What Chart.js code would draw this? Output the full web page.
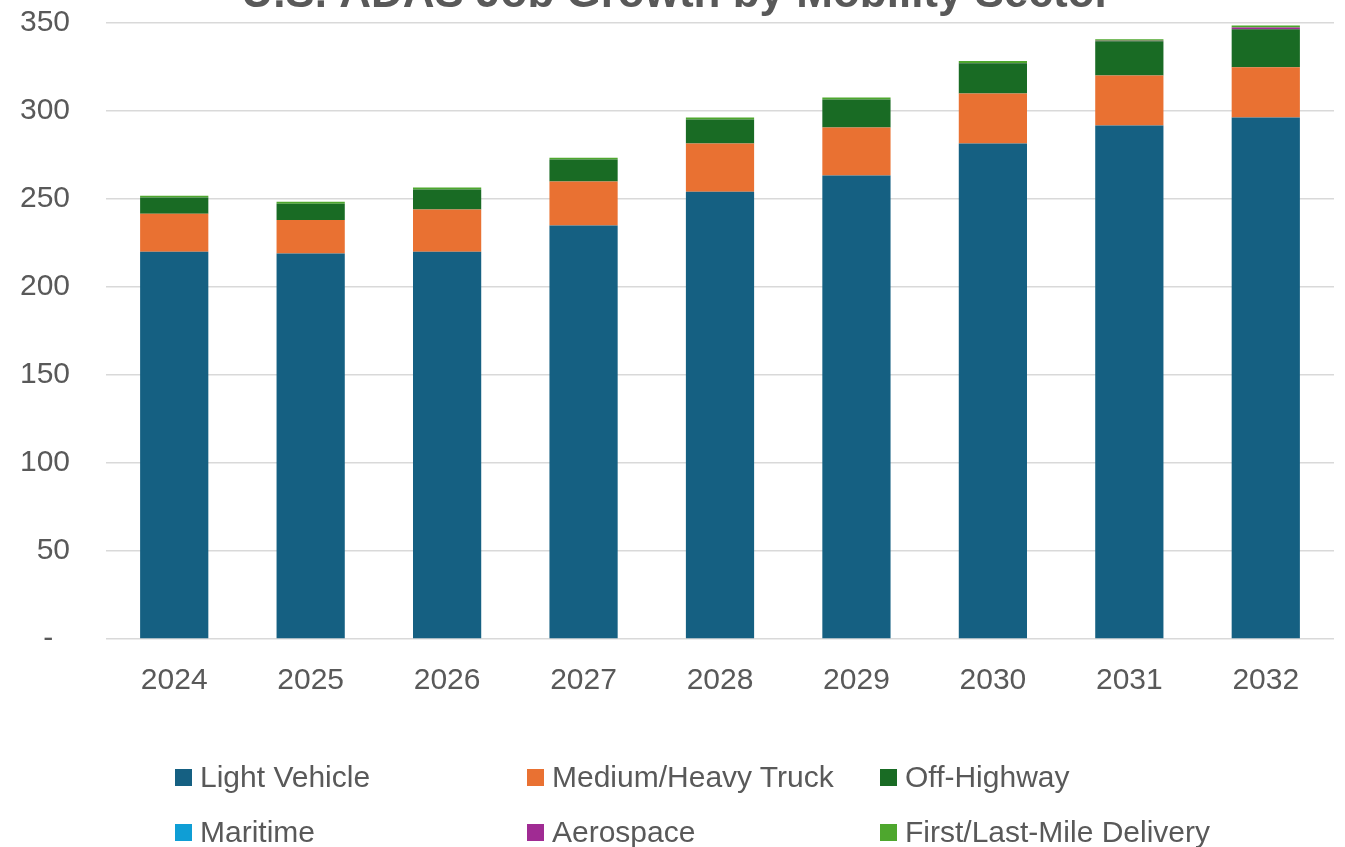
<!DOCTYPE html>
<html>
<head>
<meta charset="utf-8">
<script src="https://cdn.jsdelivr.net/npm/chart.js@4"></script>
<style>
    body {
        margin: 0;
        background: #ffffff;
        overflow: hidden;
    }
    #wrap {
        position: absolute;
        left: 0;
        top: -32px;
        width: 1345px;
        height: 879px;
    }
    #legend {
        position: absolute;
        left: 0;
        top: 0;
        width: 1345px;
        font-family: "Liberation Sans", Arial, sans-serif;
        font-size: 30px;
        color: #595959;
    }
    .legend_item {
        position: absolute;
        display: flex;
        align-items: center;
        white-space: nowrap;
        height: 36px;
    }
    .legend_box {
        width: 17px;
        height: 17px;
        margin-right: 8px;
    }
</style>
</head>
<body>
<div id="wrap"><canvas id="chart"></canvas></div>
<div id="legend"></div>
<script>
const years = ["2024", "2025", "2026", "2027", "2028", "2029", "2030", "2031", "2032"];

const lightVehicle = [220.0, 218.9, 220.0, 234.8, 254.1, 263.2, 281.4, 291.6, 296.2];
const mediumHeavyTruck = [21.6, 19.1, 23.9, 25.0, 27.3, 27.4, 28.5, 28.5, 28.5];
const offHighway = [9.1, 9.2, 11.4, 12.5, 13.7, 15.9, 17.1, 19.4, 21.6];
const maritime = [0, 0, 0, 0, 0, 0, 0, 0, 0];
const aerospace = [0, 0, 0, 0, 0, 0, 0.2, 0.3, 1.1];
const firstLastMile = [1.1, 1.1, 1.1, 1.1, 1.1, 1.1, 1.1, 0.8, 1.1];

const yTicks = [0, 50, 100, 150, 200, 250, 300, 350];

const textColor = "#595959";
const gridColor = "#d9d9d9";

let series = [
    { label: "Light Vehicle", data: lightVehicle, color: "#156082" },
    { label: "Medium/Heavy Truck", data: mediumHeavyTruck, color: "#E97132" },
    { label: "Off-Highway", data: offHighway, color: "#196B24" },
    { label: "Maritime", data: maritime, color: "#0F9ED5" },
    { label: "Aerospace", data: aerospace, color: "#A02B93" },
    { label: "First/Last-Mile Delivery", data: firstLastMile, color: "#4EA72E" }
];

let ctx = document.getElementById("chart").getContext("2d");
let chart = new Chart(ctx, {
    type: "bar",
    data: {
        labels: years,
        datasets: series.map((s) => {
            return {
                label: s.label,
                data: s.data,
                backgroundColor: s.color,
                borderWidth: 0,
                barPercentage: 0.5,
                categoryPercentage: 1
            };
        })
    },
    options: {
        responsive: true,
        maintainAspectRatio: false,
        animation: false,
        layout: {
            padding: { left: 19, right: 11, top: 0, bottom: 124 }
        },
        plugins: {
            legend: { display: false },
            tooltip: { enabled: false },
            title: {
                display: true,
                text: "U.S. ADAS Job Growth by Mobility Sector",
                color: textColor,
                font: { family: "'Liberation Sans', Arial, sans-serif", size: 44, weight: "bold" },
                padding: { top: 0, bottom: 2 }
            }
        },
        scales: {
            x: {
                stacked: true,
                grid: { display: false, drawTicks: false },
                border: { display: false },
                ticks: {
                    color: textColor,
                    padding: 24,
                    font: { family: "'Liberation Sans', Arial, sans-serif", size: 30 }
                }
            },
            y: {
                stacked: true,
                min: 0,
                max: 350,
                afterBuildTicks: (axis) => {
                    axis.ticks = yTicks.map((v) => ({ value: v }));
                },
                afterFit: (axis) => {
                    axis.width = 87;
                },
                grid: { color: gridColor, lineWidth: 1.5, drawTicks: false },
                border: { display: false },
                ticks: {
                    color: textColor,
                    padding: 36,
                    font: { family: "'Liberation Sans', Arial, sans-serif", size: 30 },
                    callback: (value) => (value === 0 ? "-  " : value)
                }
            }
        }
    }
});

// legend laid out in a 3 column grid like the original
let legendCols = [175, 527, 880];
let legendRows = [759, 814];
let items = chart.options.plugins.legend.labels.generateLabels(chart);
let legendDiv = document.getElementById("legend");
items.forEach((item, i) => {
    let el = document.createElement("div");
    el.className = "legend_item";
    el.style.left = legendCols[i % 3] + "px";
    el.style.top = legendRows[Math.floor(i / 3)] + "px";
    let box = document.createElement("span");
    box.className = "legend_box";
    box.style.background = item.fillStyle;
    let txt = document.createElement("span");
    txt.textContent = item.text;
    el.appendChild(box);
    el.appendChild(txt);
    legendDiv.appendChild(el);
});
</script>
</body>
</html>
